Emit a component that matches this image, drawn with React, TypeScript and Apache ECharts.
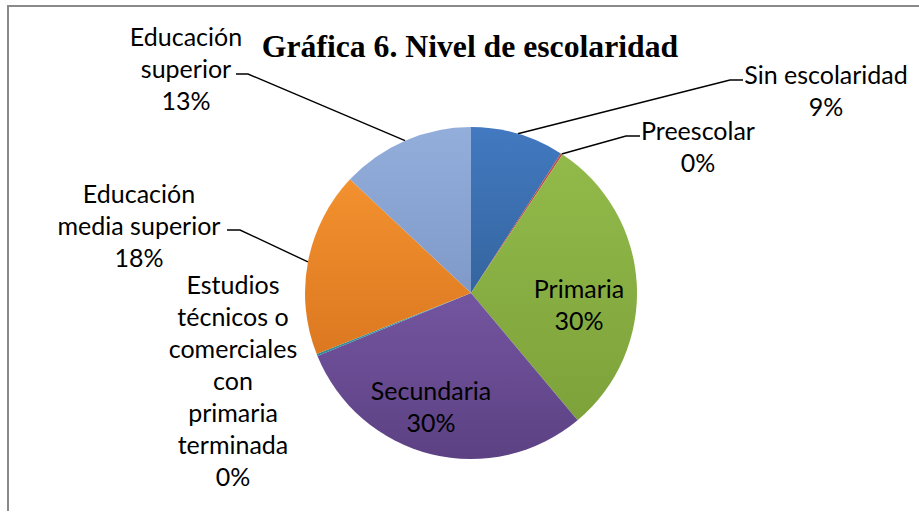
import React, { useEffect, useRef } from "react";
import * as echarts from "echarts";

const categories = [
  "Sin escolaridad",
  "Preescolar",
  "Primaria",
  "Secundaria",
  "Estudios\ntécnicos o\ncomerciales\ncon\nprimaria\nterminada",
  "Educación\nmedia superior",
  "Educación\nsuperior",
];
const values = [9.1, 0.2, 29.6, 29.9, 0.2, 18.0, 13.0];
const titleText = "Gráfica 6. Nivel de escolaridad";

const sliceTop = ["#4279C0", "#C0504D", "#92BA4A", "#7455A0", "#3FA5B8", "#F3912F", "#93AEDB"];
const sliceBottom = ["#34659F", "#A4403D", "#7DA23A", "#5C4183", "#2E8799", "#DC7820", "#7F9AC8"];

// label placement (layout only)
const labelPlacement: { x: number; y: number; leader?: number[][] }[] = [
  { x: 826, y: 90, leader: [[730, 80], [743, 80]] },
  { x: 698, y: 146, leader: [[626, 136], [640, 136]] },
  { x: 579, y: 304 },
  { x: 431, y: 406 },
  { x: 233, y: 380 },
  { x: 139, y: 225, leader: [[240, 230], [227, 230]] },
  { x: 186, y: 68, leader: [[248, 74], [236, 74]] },
];

export default function App() {
  const ref = useRef<HTMLDivElement>(null);
  useEffect(() => {
    const chart = echarts.init(ref.current as HTMLDivElement, null, { renderer: "svg" });
    const data = categories.map((name, i) => {
      const inside = i === 2 || i === 3;
      return {
        name,
        value: values[i],
        itemStyle: {
          color: {
            type: "linear",
            x: 0,
            y: 0,
            x2: 0,
            y2: 1,
            colorStops: [
              { offset: 0, color: sliceTop[i] },
              { offset: 1, color: sliceBottom[i] },
            ],
          },
        },
        label: inside ? { position: "inside" } : { position: "outside" },
        labelLine: { show: !(inside || i === 4) },
      };
    });
    chart.setOption({
      animation: false,
      backgroundColor: "#ffffff",
      graphic: [
        {
          type: "polyline",
          shape: { points: [[8, 511], [8, 6], [919, 6]] },
          style: { stroke: "#8a8a8a", lineWidth: 2, fill: null },
        },
        {
          type: "text",
          x: 470,
          y: 46,
          style: {
            text: titleText,
            font: 'bold 31.7px "Liberation Serif"',
            fill: "#000",
            textAlign: "center",
            textVerticalAlign: "middle",
          },
        },
      ],
      series: [
        {
          type: "pie",
          center: [471, 293],
          radius: [0, 166],
          startAngle: 90,
          clockwise: true,
          avoidLabelOverlap: false,
          percentPrecision: 0,
          data,
          label: {
            formatter: "{b}\n{d}%",
            fontFamily: "Lato",
            fontSize: 25,
            lineHeight: 32,
            color: "#000",
            align: "center",
          },
          labelLine: {
            show: true,
            length: 20,
            length2: 12,
            lineStyle: { color: "#000", width: 1.4 },
          },
          itemStyle: { borderWidth: 0 },
          emphasis: { disabled: true },
          labelLayout: (p: any) => {
            const cfg = labelPlacement[p.dataIndex];
            const out: any = { x: cfg.x, y: cfg.y, align: "center", verticalAlign: "middle" };
            if (cfg.leader && p.labelLinePoints && p.labelLinePoints[0]) {
              out.labelLinePoints = [p.labelLinePoints[0], ...cfg.leader];
            }
            return out;
          },
        },
      ],
    });
    return () => chart.dispose();
  }, []);
  return (
    <div
      ref={ref}
      style={{ position: "fixed", left: 0, top: 0, width: 919, height: 512, background: "#fff" }}
    />
  );
}
